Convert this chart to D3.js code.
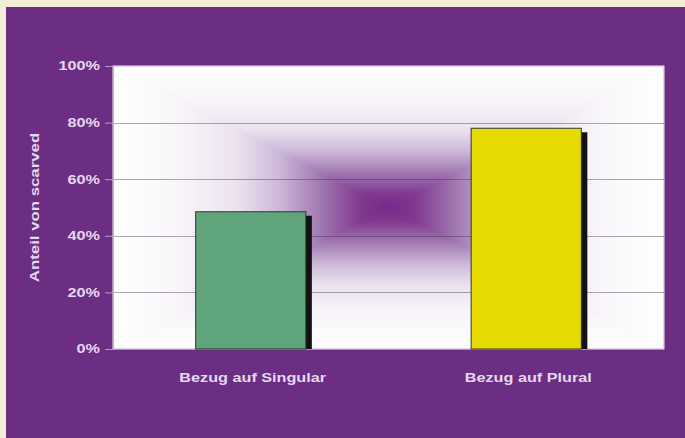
<!DOCTYPE html>
<html>
<head>
<meta charset="utf-8">
<script src="https://cdn.jsdelivr.net/npm/d3@7/dist/d3.min.js"></script>
<style>
  html, body { margin: 0; padding: 0; background: #f2eed6; }
  svg { display: block; }
  text { font-family: "Liberation Sans", Arial, sans-serif; font-weight: bold; }
</style>
</head>
<body>
<svg id="chart" width="685" height="438"></svg>
<script>
// Share of "scarved" by reference type
const categories = ["Bezug auf Singular", "Bezug auf Plural"];
const values = [48.5, 78];
const barColors = ["#5fa47b", "#e6da00"];
const tickValues = [0, 20, 40, 60, 80, 100];
const tickLabels = ["0%", "20%", "40%", "60%", "80%", "100%"];
const yTitle = "Anteil von scarved";

const W = 685, H = 438;
const plot = { left: 113, right: 664, top: 66, bottom: 349 };

const svg = d3.select("#chart");

// cream frame and purple panel
svg.append("rect").attr("width", W).attr("height", H).attr("fill", "#f2eed6");
svg.append("rect").attr("x", 6).attr("y", 7).attr("width", W - 6).attr("height", H - 7)
  .attr("fill", "#6b2e83");

const x = d3.scaleBand().domain(categories)
  .range([plot.left, plot.right]).paddingInner(0.6).paddingOuter(0.3);
const y = d3.scaleLinear().domain([0, 100]).range([plot.bottom, plot.top]);

// plot background: rectangular gradient from the centre outwards
const defs = svg.append("defs");
const cx = (plot.left + plot.right) / 2, cy = (plot.top + plot.bottom) / 2;
const stops = [
  [0, "#76288a"], [0.1, "#80398f"], [0.25, "#a27ab3"], [0.4, "#cdb9d9"],
  [0.55, "#ebe2ef"], [0.75, "#f8f5f9"], [1, "#ffffff"]
];
const sides = [
  { id: "gTop", to: [cx, plot.top], pts: [[plot.left, plot.top], [plot.right, plot.top]] },
  { id: "gBottom", to: [cx, plot.bottom], pts: [[plot.left, plot.bottom], [plot.right, plot.bottom]] },
  { id: "gLeft", to: [plot.left, cy], pts: [[plot.left, plot.top], [plot.left, plot.bottom]] },
  { id: "gRight", to: [plot.right, cy], pts: [[plot.right, plot.top], [plot.right, plot.bottom]] }
];
svg.append("rect").attr("x", plot.left).attr("y", plot.top)
  .attr("width", plot.right - plot.left).attr("height", plot.bottom - plot.top)
  .attr("fill", "#d8c6e0");
sides.forEach(s => {
  const g = defs.append("linearGradient").attr("id", s.id)
    .attr("gradientUnits", "userSpaceOnUse")
    .attr("x1", cx).attr("y1", cy).attr("x2", s.to[0]).attr("y2", s.to[1]);
  stops.forEach(([o, c]) => g.append("stop").attr("offset", o).attr("stop-color", c));
  const pts = [s.pts[0], s.pts[1], [cx, cy]];
  svg.append("polygon").attr("points", pts.map(p => p.join(",")).join(" "))
    .attr("fill", `url(#${s.id})`).attr("stroke", `url(#${s.id})`).attr("stroke-width", 0.6);
});

// plot border
svg.append("rect").attr("x", plot.left).attr("y", plot.top)
  .attr("width", plot.right - plot.left).attr("height", plot.bottom - plot.top)
  .attr("fill", "none").attr("stroke", "#c9a9d6").attr("stroke-width", 1);

// horizontal gridlines, translucent so they darken over the purple centre
svg.append("g").selectAll("line").data(tickValues.filter(v => v > 0 && v < 100)).join("line")
  .attr("x1", plot.left).attr("x2", plot.right)
  .attr("y1", d => Math.round(y(d)) + 0.5).attr("y2", d => Math.round(y(d)) + 0.5)
  .attr("stroke", "#3c3246").attr("stroke-opacity", 0.42).attr("stroke-width", 1.2);

// y axis
const yAxis = d3.axisLeft(y).tickValues(tickValues)
  .tickFormat((d, i) => tickLabels[i]).tickSize(8).tickPadding(5);
const yg = svg.append("g").attr("transform", `translate(${plot.left},0)`).call(yAxis);
yg.select(".domain").attr("stroke", "#c9a9d6");
yg.selectAll(".tick line").attr("stroke", "#b79cc6");
yg.selectAll(".tick text").attr("fill", "#e4d8ee").attr("font-size", 12)
  .attr("font-family", "'Liberation Sans', Arial, sans-serif").attr("font-weight", "bold");

// bars with a drop shadow on the right
const bars = svg.append("g");
categories.forEach((c, i) => {
  const bx = x(c), bw = x.bandwidth(), by = y(values[i]), bh = y(0) - y(values[i]);
  bars.append("rect").attr("x", bx + 6).attr("y", by + 4)
    .attr("width", bw).attr("height", bh - 4).attr("fill", "#121212");
  bars.append("rect").attr("x", bx).attr("y", by).attr("width", bw).attr("height", bh)
    .attr("fill", barColors[i]).attr("stroke", "#2e3a2a").attr("stroke-width", 1);
});

// category labels
const xl = svg.append("g").selectAll("text").data(categories).join("text")
  .attr("x", d => x(d) + x.bandwidth() / 2 + 2).attr("y", 382)
  .attr("text-anchor", "middle").attr("font-size", 12).attr("fill", "#e4d8ee")
  .text(d => d);

// y axis title
const yt = svg.append("text")
  .attr("transform", `translate(39,${cy}) rotate(-90)`)
  .attr("text-anchor", "middle").attr("font-size", 12).attr("fill", "#e4d8ee")
  .text(yTitle);

// widen the bold labels a little
function stretch(sel, k) {
  sel.each(function () {
    const len = this.getComputedTextLength();
    d3.select(this).attr("textLength", len * k).attr("lengthAdjust", "spacingAndGlyphs");
  });
}
stretch(xl, 1.35);
stretch(yt, 1.4);
stretch(yg.selectAll(".tick text"), 1.35);
</script>
</body>
</html>
